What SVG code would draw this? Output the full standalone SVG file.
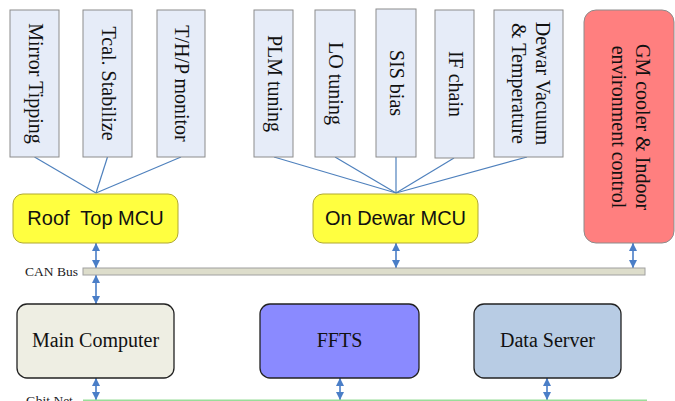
<svg xmlns="http://www.w3.org/2000/svg" width="675" height="401" viewBox="0 0 675 401">
<defs>
<marker id="ah" viewBox="0 0 8 8" refX="8" refY="4" markerWidth="8" markerHeight="8" markerUnits="userSpaceOnUse" orient="auto-start-reverse">
<path d="M0,0 L8,4 L0,8 z" fill="#4A7EC7"/>
</marker>
<style>
.sub{fill:#E6ECF8;stroke:#8C8C8C;stroke-width:1}
.vt{font-family:"Liberation Serif","Times New Roman",serif;font-size:20px;fill:#111;text-anchor:middle}
.mcu{fill:#FFFF40;stroke:#B0A830;stroke-width:1}
.sans{font-family:"Liberation Sans",Arial,sans-serif;font-size:20px;fill:#111;text-anchor:middle}
.serif{font-family:"Liberation Serif","Times New Roman",serif;font-size:20px;fill:#111;text-anchor:middle}
.lbl{font-family:"Liberation Serif","Times New Roman",serif;font-size:13.5px;fill:#222}
.pc{stroke:#222;stroke-width:1.3}
.thin{stroke:#4F81BD;stroke-width:1.2;fill:none}
.dbl{stroke:#4A7EC7;stroke-width:1.6;fill:none;marker-start:url(#ah);marker-end:url(#ah)}
</style>
</defs>
<rect width="675" height="401" fill="#FFFFFF"/>

<g id="connectors">
<line class="thin" x1="34.5" y1="157" x2="96" y2="193"/>
<line class="thin" x1="107.5" y1="157" x2="96" y2="193"/>
<line class="thin" x1="181" y1="157" x2="96" y2="193"/>
<line class="thin" x1="274" y1="157" x2="396" y2="193"/>
<line class="thin" x1="335" y1="157" x2="396" y2="193"/>
<line class="thin" x1="396" y1="157" x2="396" y2="193"/>
<line class="thin" x1="454" y1="158" x2="396" y2="193"/>
<line class="thin" x1="527" y1="157" x2="396" y2="193"/>
<line class="dbl" x1="96" y1="243" x2="96" y2="268"/>
<line class="dbl" x1="396" y1="243" x2="396" y2="268"/>
<line class="dbl" x1="633" y1="243" x2="633" y2="268"/>
<line class="dbl" x1="96" y1="275" x2="96" y2="304"/>
<line class="dbl" x1="96" y1="378" x2="96" y2="400"/>
<line class="dbl" x1="340" y1="378" x2="340" y2="400"/>
<line class="dbl" x1="547" y1="378" x2="547" y2="400"/>
</g>

<g id="mirror-tipping">
<rect class="sub" x="10" y="10" width="49" height="147"/>
<text class="vt" transform="translate(34.5,83.5) rotate(90)" y="6">Mirror Tipping</text>
</g>
<g id="tcal-stabilize">
<rect class="sub" x="83" y="10" width="49" height="147"/>
<text class="vt" transform="translate(107.5,83.5) rotate(90)" y="6">Tcal. Stabilize</text>
</g>
<g id="thp-monitor">
<rect class="sub" x="157" y="10" width="48" height="147"/>
<text class="vt" transform="translate(181,83.5) rotate(90)" y="6">T/H/P monitor</text>
</g>
<g id="plm-tuning">
<rect class="sub" x="254" y="10" width="39" height="147"/>
<text class="vt" transform="translate(273.5,83.5) rotate(90)" y="6">PLM tuning</text>
</g>
<g id="lo-tuning">
<rect class="sub" x="315" y="10" width="40" height="147"/>
<text class="vt" transform="translate(335,83.5) rotate(90)" y="6">LO tuning</text>
</g>
<g id="sis-bias">
<rect class="sub" x="376" y="9" width="40" height="148"/>
<text class="vt" transform="translate(396,83) rotate(90)" y="6">SIS bias</text>
</g>
<g id="if-chain">
<rect class="sub" x="435" y="10" width="39" height="148"/>
<text class="vt" transform="translate(454.5,84) rotate(90)" y="6">IF chain</text>
</g>
<g id="dewar-vacuum">
<rect class="sub" x="494" y="10" width="69" height="147"/>
<text class="vt" transform="translate(528.5,83.5) rotate(90)"><tspan x="0" y="-7">Dewar Vacuum</tspan><tspan x="0" y="17">&amp; Temperature</tspan></text>
</g>
<g id="gm-cooler">
<rect x="584" y="10" width="90" height="233" rx="12" fill="#FF7F7F" stroke="#8C8C8C" stroke-width="1"/>
<text class="vt" transform="translate(629,127) rotate(90)"><tspan x="0" y="-7">GM cooler &amp; Indoor</tspan><tspan x="0" y="17">environment control</tspan></text>
</g>

<g id="roof-top-mcu">
<rect class="mcu" x="13" y="194" width="165" height="49" rx="10"/>
<text class="sans" x="95.5" y="225" xml:space="preserve">Roof  Top MCU</text>
</g>
<g id="on-dewar-mcu">
<rect class="mcu" x="313" y="194" width="165" height="49" rx="10"/>
<text class="sans" x="395.5" y="225">On Dewar MCU</text>
</g>

<g id="can-bus">
<rect x="83" y="268" width="562" height="7" fill="#DDDDCB" stroke="#A0A0A0" stroke-width="1"/>
<text class="lbl" x="25" y="276">CAN Bus</text>
</g>

<g id="main-computer">
<rect class="pc" x="17" y="304" width="157" height="74" rx="10" fill="#EEEEE3"/>
<text class="serif" x="95.5" y="347">Main Computer</text>
</g>
<g id="ffts">
<rect class="pc" x="260" y="304" width="159" height="74" rx="10" fill="#8A8AFF"/>
<text class="serif" x="339.5" y="347">FFTS</text>
</g>
<g id="data-server">
<rect class="pc" x="474" y="304" width="147" height="74" rx="10" fill="#B8CCE4"/>
<text class="serif" x="547.5" y="347">Data Server</text>
</g>

<g id="gbit-net">
<line x1="83" y1="400.2" x2="647" y2="400.2" stroke="#99DD99" stroke-width="1.5"/>
<text class="lbl" x="26" y="405">Gbit Net</text>
</g>
</svg>
